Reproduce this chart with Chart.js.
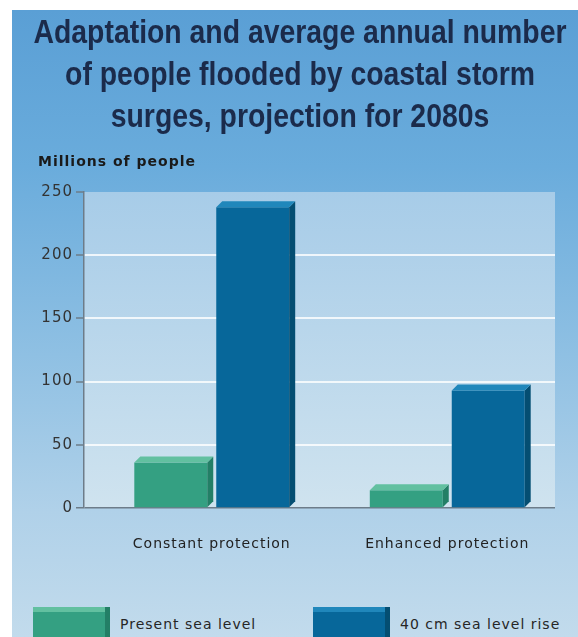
<!DOCTYPE html>
<html>
<head>
<meta charset="utf-8">
<script src="https://cdn.jsdelivr.net/npm/chart.js@4.4.1/dist/chart.umd.min.js"></script>
<style>
  html, body { margin: 0; padding: 0; background: #ffffff; width: 578px; height: 637px; overflow: hidden; }
  #panel { position: absolute; left: 12px; top: 10px; width: 566px; height: 627px; overflow: hidden;
    background: linear-gradient(to bottom, #5a9fd5 0%, #6aacdc 25%, #8fc0e3 55%, #b0d1e9 80%, #c2dbec 100%); }
  #wrap { position: absolute; left: 0; top: 0; width: 566px; height: 590px; }
  #title { position: absolute; left: -112px; top: 1px; width: 800px; }
  .tl { height: 42px; line-height: 42px; text-align: center; white-space: nowrap;
    font-family: 'Liberation Sans', Arial, sans-serif; font-weight: bold; font-size: 33px; color: #1b2b4b;
    transform: scaleX(0.86); transform-origin: 50% 50%; }
  #legend { position: absolute; left: 0; top: 597px; width: 566px; height: 40px; }
  .item { position: absolute; top: 0; display: flex; align-items: flex-start; }
  .sw { width: 77px; height: 36px; }
  .lbl { font-family: 'DejaVu Sans', sans-serif; font-size: 14px; letter-spacing: 1px; color: #262626; margin-left: 10px; margin-top: 9px; line-height: 16px; white-space: nowrap; }
</style>
</head>
<body>
<div id="panel">
  <div id="wrap"><canvas id="c"></canvas></div>
  <div id="title"></div>
  <div id="legend"></div>
</div>
<script>
// ---- data ----
const titleLines = ["Adaptation and average annual number", "of people flooded by coastal storm", "surges, projection for 2080s"];
const yAxisTitle = "Millions of people";
const categories = ["Constant protection", "Enhanced protection"];
const seriesNames = ["Present sea level", "40 cm sea level rise"];
const presentSeaLevel = [36, 14];
const seaLevelRise40cm = [238, 93];
const yTickValues = [0, 50, 100, 150, 200, 250];
const yTickLabels = ["0", "50", "100", "150", "200", "250"];

// ---- styles ----
const fronts = ["#34a082", "#07679a"];
const tops = ["#62c0a0", "#2087bb"];
const sides = ["#237f66", "#044e72"];
const depth = 6;
const perspectiveShift = 10;   // bars sit slightly right, as in the 3-D original
const axisGrey = '#6d7c89';

const spacingPlugin = {
  id: 'spacing',
  beforeUpdate(c) { c.ctx.letterSpacing = '1px'; },
  resize(c) { c.ctx.letterSpacing = '1px'; },
  beforeDraw(c) { c.ctx.letterSpacing = '1px'; }
};

const shiftPlugin = {
  id: 'shift',
  afterLayout(c) {
    const s = c.scales.x;
    s.left += perspectiveShift;
    s.right += perspectiveShift;
    s.configure();
  }
};

const plotBg = {
  id: 'plotBg',
  beforeDraw(c) {
    const a = c.chartArea, ctx = c.ctx;
    const g = ctx.createLinearGradient(0, a.top, 0, a.bottom);
    g.addColorStop(0, '#a7cce8');
    g.addColorStop(1, '#cfe3ef');
    ctx.save();
    ctx.fillStyle = g;
    ctx.fillRect(a.left, a.top, a.right - a.left, a.bottom - a.top);
    ctx.restore();
  }
};

const bars3d = {
  id: 'bars3d',
  afterDatasetsDraw(c) {
    const ctx = c.ctx;
    c.data.datasets.forEach((ds, i) => {
      const meta = c.getDatasetMeta(i);
      meta.data.forEach(bar => {
        const p = bar.getProps(['x', 'y', 'base', 'width'], true);
        const l = p.x - p.width / 2, r = p.x + p.width / 2;
        ctx.save();
        ctx.fillStyle = sides[i];
        ctx.beginPath();
        ctx.moveTo(r, p.y);
        ctx.lineTo(r + depth, p.y - depth);
        ctx.lineTo(r + depth, p.base - depth);
        ctx.lineTo(r, p.base);
        ctx.closePath();
        ctx.fill();
        ctx.fillStyle = tops[i];
        ctx.beginPath();
        ctx.moveTo(l, p.y);
        ctx.lineTo(l + depth, p.y - depth);
        ctx.lineTo(r + depth, p.y - depth);
        ctx.lineTo(r, p.y);
        ctx.closePath();
        ctx.fill();
        ctx.restore();
      });
    });
  }
};

new Chart(document.getElementById('c'), {
  type: 'bar',
  data: {
    labels: categories,
    datasets: [
      { label: seriesNames[0], data: presentSeaLevel, backgroundColor: fronts[0], barPercentage: 0.89, categoryPercentage: 0.696 },
      { label: seriesNames[1], data: seaLevelRise40cm, backgroundColor: fronts[1], barPercentage: 0.89, categoryPercentage: 0.696 }
    ]
  },
  options: {
    responsive: true,
    maintainAspectRatio: false,
    animation: false,
    events: [],
    layout: { padding: { left: 26, right: 23, top: 0, bottom: 46 } },
    plugins: {
      legend: { display: false },
      tooltip: { enabled: false },
      title: { display: false },
      subtitle: {
        display: true, text: yAxisTitle, align: 'start', color: '#1a1a1a',
        font: { family: "'DejaVu Sans', sans-serif", size: 14, weight: 'bold', lineHeight: 1.2 },
        padding: { top: 143.6, bottom: 21.6 }
      }
    },
    scales: {
      x: {
        grid: { display: false, drawTicks: false },
        border: { display: false },
        ticks: { padding: 28, color: '#222', font: { family: "'DejaVu Sans', sans-serif", size: 14 } },
        afterFit(s) { s.height = 46; }
      },
      y: {
        min: 0, max: 250,
        afterBuildTicks(s) { s.ticks = yTickValues.map(v => ({ value: v })); },
        ticks: {
          padding: 3, color: '#333',
          font: { family: "'DejaVu Sans', sans-serif", size: 15 },
          callback: (v) => yTickLabels[yTickValues.indexOf(v)]
        },
        grid: {
          color: (ctx) => {
            if (!ctx.tick) return 'rgba(0,0,0,0)';
            if (ctx.tick.value === 0) return axisGrey;
            if (ctx.tick.value === 250) return 'rgba(0,0,0,0)';
            return 'rgba(255,255,255,0.8)';
          },
          lineWidth: (ctx) => (ctx.tick && ctx.tick.value === 0) ? 1.5 : 2,
          tickColor: axisGrey, tickLength: 8, tickWidth: 1.5
        },
        border: { color: axisGrey, width: 1.5 },
        afterFit(s) { s.width = 46; }
      }
    }
  },
  plugins: [spacingPlugin, shiftPlugin, plotBg, bars3d]
});

// ---- title (HTML, condensed like the original typeface) ----
const titleEl = document.getElementById('title');
titleLines.forEach(t => {
  const d = document.createElement('div');
  d.className = 'tl';
  d.textContent = t;
  titleEl.appendChild(d);
});

// ---- legend (HTML) ----
const legendLefts = [21, 301];
const legend = document.getElementById('legend');
seriesNames.forEach((name, i) => {
  const item = document.createElement('div');
  item.className = 'item';
  item.style.left = legendLefts[i] + 'px';
  const sw = document.createElement('div');
  sw.className = 'sw';
  sw.style.background = `linear-gradient(to bottom, ${tops[i]} 0px, ${tops[i]} 5px, ${fronts[i]} 5px)`;
  sw.style.boxShadow = `inset -5px 0 0 ${sides[i]}`;
  const lb = document.createElement('div');
  lb.className = 'lbl';
  lb.textContent = name;
  item.appendChild(sw);
  item.appendChild(lb);
  legend.appendChild(item);
});
</script>
</body>
</html>
